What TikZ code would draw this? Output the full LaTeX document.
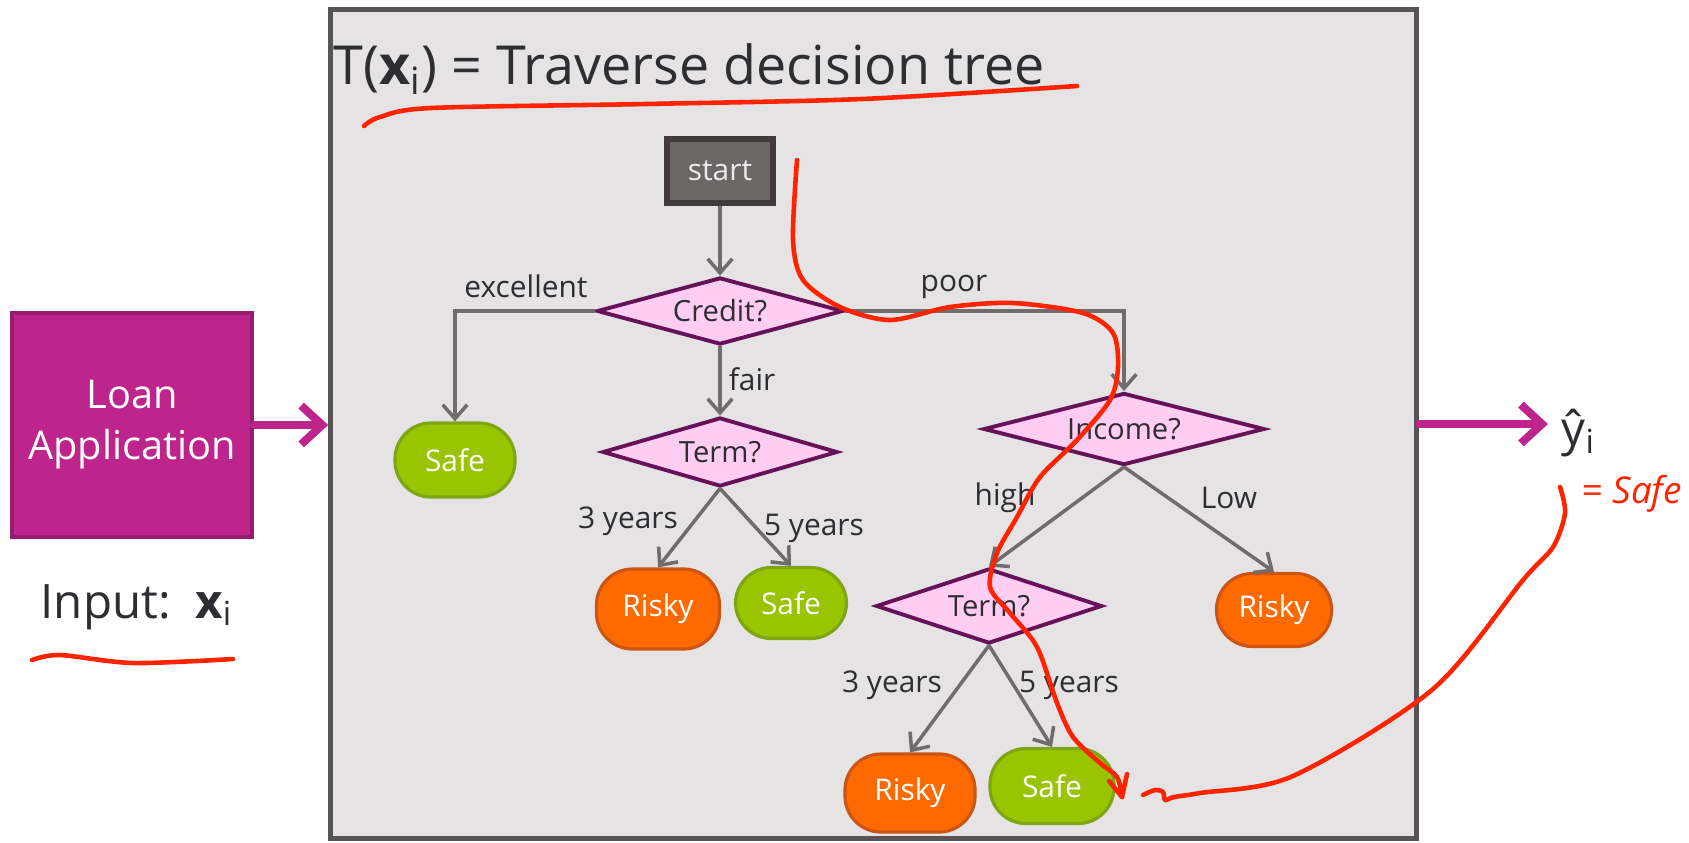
\documentclass[tikz,border=0pt]{standalone}
\usepackage{fontspec}
\setmainfont{Open Sans}
\usepackage{xcolor}
\usepackage{tikz}
\usetikzlibrary{positioning,shapes.geometric,arrows.meta}
\definecolor{panelgray}{RGB}{229,227,228}
\definecolor{panelline}{RGB}{88,84,85}
\definecolor{decpink}{RGB}{255,204,242}
\definecolor{decline}{RGB}{102,18,88}
\definecolor{safegreen}{RGB}{153,196,0}
\definecolor{safeline}{RGB}{125,165,20}
\definecolor{riskyorange}{RGB}{255,106,0}
\definecolor{riskyline}{RGB}{205,85,20}
\definecolor{startfill}{RGB}{110,102,102}
\definecolor{startline}{RGB}{64,58,58}
\definecolor{flowgray}{RGB}{112,108,108}
\definecolor{loanpink}{RGB}{190,37,140}
\definecolor{loanline}{RGB}{150,28,110}
\definecolor{inkred}{RGB}{255,35,0}
\definecolor{txtgray}{RGB}{45,45,50}

\begin{document}
\begin{tikzpicture}[x=0.01cm,y=-0.01cm,
          panelbox/.style={draw=panelline, fill=panelgray, line width=1.4pt},
          startnode/.style={draw=startline, fill=startfill, line width=1.5pt,
                            minimum width=1.06cm, minimum height=0.64cm,
                            text=white!92!black, font=\fontsize{8.5}{10}\selectfont},
          decnode/.style={diamond, draw=decline, fill=decpink, line width=1.1pt,
                          aspect=3.5, inner sep=0pt, text=txtgray,
                          font=\fontsize{8.3}{10}\selectfont},
          leafnode/.style={rounded corners=0.36cm, line width=0.9pt, text=white,
                           minimum height=0.74cm, font=\fontsize{8.5}{10}\selectfont},
          safenode/.style={leafnode, draw=safeline, fill=safegreen},
          riskynode/.style={leafnode, draw=riskyline, fill=riskyorange},
          lbl/.style={text=txtgray, font=\fontsize{8.5}{10}\selectfont},
          arr/.style={-{Straight Barb[length=4pt,width=7pt]}, draw=flowgray, line width=1pt},
          inarr/.style={-{Straight Barb[length=6pt,width=11pt]}, draw=loanpink,
                        line width=2.3pt, line cap=round},
          ink/.style={draw=inkred, line width=1.3pt, line cap=round, line join=round}]
          \useasboundingbox (0,0) rectangle (1689,842);
          % panel
          \node[panelbox, minimum width=10.85cm, minimum height=8.28cm] (panel) at (873.5,424) {};
          \node[anchor=base west, text=txtgray, font=\fontsize{15.3}{18}\selectfont, inner sep=0pt]
               (title) at (333,84) {T({\bfseries x}\textsubscript{i}) = Traverse decision tree};
          % tree
          \node[startnode] (start) at (720,171) {start};
          \node[decnode, minimum width=2.46cm, minimum height=0.67cm] (credit) at (720,311) {Credit?};
          \node[safenode, minimum width=1.2cm] (safeA) at (455,460) {Safe};
          \node[decnode, minimum width=2.35cm, minimum height=0.69cm] (termA) at (720,452) {Term?};
          \node[riskynode, minimum width=1.23cm, minimum height=0.8cm] (riskyA) at (658,609) {Risky};
          \node[safenode, minimum width=1.11cm, minimum height=0.71cm] (safeB) at (791,603) {Safe};
          \node[decnode, minimum width=2.81cm, minimum height=0.72cm] (income) at (1124,429) {Income?};
          \node[decnode, minimum width=2.26cm, minimum height=0.75cm] (termB) at (989,606) {Term?};
          \node[riskynode, minimum width=1.15cm, minimum height=0.73cm] (riskyB) at (1274,610) {Risky};
          \node[riskynode, minimum width=1.3cm, minimum height=0.78cm] (riskyC) at (910,793) {Risky};
          \node[safenode, minimum width=1.24cm, minimum height=0.75cm] (safeC) at (1052,786) {Safe};
          \draw[arr] (start) -- (credit);
          \draw[arr] (credit.west) -| (safeA);
          \draw[arr] (credit) -- (termA);
          \draw[arr] (credit.east) -| (income);
          \draw[arr] (termA.south) -- (riskyA.north);
          \draw[arr] (termA.south) -- (safeB.north);
          \draw[arr] (income.south) -- (termB.north);
          \draw[arr] (income.south) -- (riskyB.north);
          \draw[arr] (termB.south) -- (riskyC.north);
          \draw[arr] (termB.south) -- (safeC.north);
          \node[lbl] (lexc) at (526,286) {excellent};
          \node[lbl] (lfair) at (752,379) {fair};
          \node[lbl] (lpoor) at (954,287) {poor};
          \node[lbl] (lthreeA) at (628,521) {3 years};
          \node[lbl] (lfiveA) at (814,528) {5 years};
          \node[lbl] (lhigh) at (1005,498) {high};
          \node[lbl] (llow) at (1229,498) {Low};
          \node[lbl] (lthreeB) at (892,685) {3 years};
          \node[lbl] (lfiveB) at (1069,685) {5 years};
          % input and output
          \node[draw=loanline, fill=loanpink, line width=1.3pt, minimum width=2.4cm,
                minimum height=2.24cm, align=center, text=white,
                font=\fontsize{11.3}{14.5}\selectfont] (loan) at (132,425) {Loan\\Application};
          \node[anchor=base west, inner sep=0pt, text=txtgray, font=\fontsize{13.5}{16}\selectfont]
               (input) at (40,618) {Input:\ \ {\bfseries x}\textsubscript{i}};
          \node[anchor=west, inner sep=0pt, text=txtgray, font=\fontsize{13.5}{16}\selectfont]
               (yhat) at (1561,433) {ŷ\textsubscript{i}};
          \draw[inarr] (loan.east) -- (loan.east -| panel.west);
          \draw[inarr] (panel.east) -- ([xshift=-0.13cm]panel.east -| yhat.west);
          % red ink
          \draw[ink] plot[smooth] coordinates {(364,126) (380,117) (431,108) (646,104) (862,99) (1077,86)};
          \draw[ink] plot[smooth] coordinates {(32,660) (60,655) (133,663) (233,659)};
          \draw[ink] plot[smooth] coordinates {(797,160) (793,240) (803,280) (840,307) (890,320)
               (950,307) (1013,303) (1083,313) (1113,333) (1118,367) (1110,400) (1077,440)
               (1040,477) (1017,517) (997,553) (990,587) (1010,613) (1037,647) (1057,703)
               (1073,737) (1100,763) (1117,777) (1122,797)};
          \draw[ink] (1109,781) -- (1122,797) -- (1127,774);
          \draw[ink] plot[smooth] coordinates {(1143,795) (1155,790) (1163,792) (1165,800)
               (1174,797) (1200,793) (1293,776) (1433,689) (1523,580) (1553,547) (1565,513) (1560,487)};
          \node[anchor=west, inner sep=0pt, text=inkred, font=\itshape\fontsize{10.5}{12}\selectfont]
               (safenote) at (1581,494) {= Safe};
        \end{tikzpicture}
\end{document}
